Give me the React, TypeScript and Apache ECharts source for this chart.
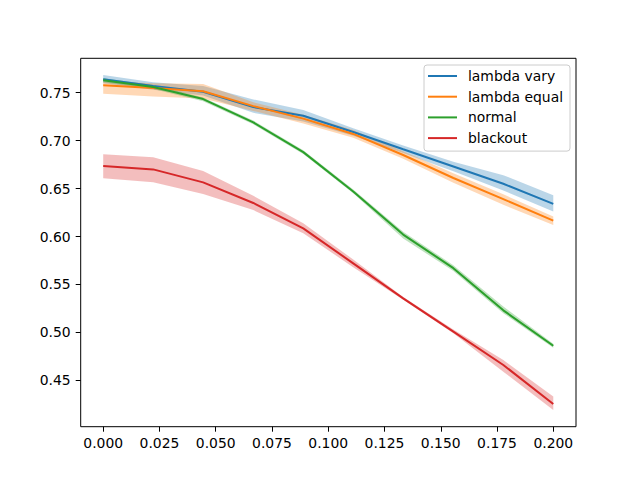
import React, { useEffect, useRef } from "react";
import * as echarts from "echarts";

const xValues = [0, 0.0222, 0.0444, 0.0667, 0.0889, 0.1111, 0.1333, 0.1556, 0.1778, 0.2];
const xTicks = [0, 0.025, 0.05, 0.075, 0.1, 0.125, 0.15, 0.175, 0.2];
const yTicks = [0.45, 0.5, 0.55, 0.6, 0.65, 0.7, 0.75];

const seriesNames = ["lambda vary", "lambda equal", "normal", "blackout"];
const seriesColors = ["#1f77b4", "#ff7f0e", "#2ca02c", "#d62728"];

const varyMean = [0.764, 0.757, 0.751, 0.735, 0.726, 0.709, 0.691, 0.673, 0.655, 0.634];
const varyLo = [0.760, 0.753, 0.747, 0.729, 0.720, 0.705, 0.687, 0.668, 0.648, 0.626];
const varyHi = [0.7685, 0.761, 0.757, 0.743, 0.732, 0.713, 0.695, 0.678, 0.664, 0.643];

const equalMean = [0.7577, 0.755, 0.7515, 0.736, 0.723, 0.707, 0.685, 0.661, 0.639, 0.6165];
const equalLo = [0.749, 0.746, 0.744, 0.731, 0.718, 0.703, 0.681, 0.656, 0.633, 0.612];
const equalHi = [0.762, 0.760, 0.759, 0.740, 0.727, 0.711, 0.689, 0.666, 0.644, 0.621];

const normalMean = [0.763, 0.756, 0.7434, 0.719, 0.688, 0.647, 0.602, 0.567, 0.523, 0.486];
const normalLo = [0.761, 0.754, 0.741, 0.717, 0.686, 0.645, 0.598, 0.564, 0.520, 0.484];
const normalHi = [0.765, 0.758, 0.745, 0.721, 0.690, 0.649, 0.605, 0.570, 0.527, 0.488];

const blackoutMean = [0.6735, 0.670, 0.6565, 0.635, 0.6085, 0.572, 0.5355, 0.5007, 0.466, 0.4253];
const blackoutLo = [0.6607, 0.6565, 0.6443, 0.6276, 0.6033, 0.568, 0.534, 0.499, 0.459, 0.419];
const blackoutHi = [0.6857, 0.6826, 0.6683, 0.6425, 0.6138, 0.576, 0.537, 0.503, 0.4712, 0.433];

const means = [varyMean, equalMean, normalMean, blackoutMean];
const lows = [varyLo, equalLo, normalLo, blackoutLo];
const highs = [varyHi, equalHi, normalHi, blackoutHi];

const FONT = "DejaVu Sans";

export default function App() {
  const ref = useRef<HTMLDivElement>(null);
  useEffect(() => {
    if (!ref.current) return;
    const chart = echarts.init(ref.current, undefined, { renderer: "svg" });

    const bandSeries = seriesNames.map((name, k) => ({
      name: name + " band",
      type: "custom",
      coordinateSystem: "cartesian2d",
      z: 1,
      silent: true,
      data: [[xValues[0], lows[k][0]]],
      renderItem: (params: any, api: any) => {
        if (params.dataIndex !== 0) return null;
        const upper = xValues.map((x, i) => api.coord([x, highs[k][i]]));
        const lower = xValues.map((x, i) => api.coord([x, lows[k][i]])).reverse();
        return {
          type: "polygon",
          shape: { points: upper.concat(lower) },
          style: { fill: seriesColors[k], opacity: 0.3 },
        };
      },
    }));

    const lineSeries = seriesNames.map((name, k) => ({
      name,
      type: "line",
      z: 2,
      symbol: "none",
      color: seriesColors[k],
      lineStyle: { width: 2, color: seriesColors[k] },
      data: xValues.map((x, i) => [x, means[k][i]]),
    }));

    chart.setOption({
      animation: false,
      backgroundColor: "#ffffff",
      grid: {
        left: 80.7,
        top: 58.3,
        width: 495.3,
        height: 368.4,
        show: true,
        borderColor: "#000000",
        borderWidth: 1,
        backgroundColor: "transparent",
      },
      legend: {
        data: seriesNames,
        left: 424,
        top: 65,
        orient: "vertical",
        icon: "rect",
        itemWidth: 29,
        itemHeight: 2,
        itemGap: 6.7,
        padding: [4, 7, 6, 4],
        borderColor: "#cccccc",
        borderWidth: 1,
        borderRadius: 3,
        backgroundColor: "rgba(255,255,255,0.8)",
        textStyle: {
          fontFamily: FONT,
          fontSize: 13.9,
          color: "#000000",
          lineHeight: 14,
          padding: [0, 0, 0, 6],
        },
      },
      xAxis: {
        type: "value",
        min: -0.01,
        max: 0.2101,
        axisLine: { show: false, onZero: false },
        splitLine: { show: false },
        axisTick: {
          show: true,
          length: 5,
          inside: false,
          customValues: xTicks,
          lineStyle: { color: "#000000", width: 1 },
        },
        axisLabel: {
          customValues: xTicks,
          formatter: (v: number) => v.toFixed(3),
          fontFamily: FONT,
          fontSize: 13.9,
          color: "#000000",
          margin: 9,
        },
      },
      yAxis: {
        type: "value",
        min: 0.4016,
        max: 0.7859,
        axisLine: { show: false, onZero: false },
        splitLine: { show: false },
        axisTick: {
          show: true,
          length: 5,
          inside: false,
          customValues: yTicks,
          lineStyle: { color: "#000000", width: 1 },
        },
        axisLabel: {
          customValues: yTicks,
          formatter: (v: number) => v.toFixed(2),
          fontFamily: FONT,
          fontSize: 13.9,
          color: "#000000",
          margin: 10,
        },
      },
      series: [...bandSeries, ...lineSeries],
    });
    return () => chart.dispose();
  }, []);
  return (
    <div
      ref={ref}
      style={{ position: "fixed", left: 0, top: 0, width: 640, height: 480, background: "#fff" }}
    />
  );
}
